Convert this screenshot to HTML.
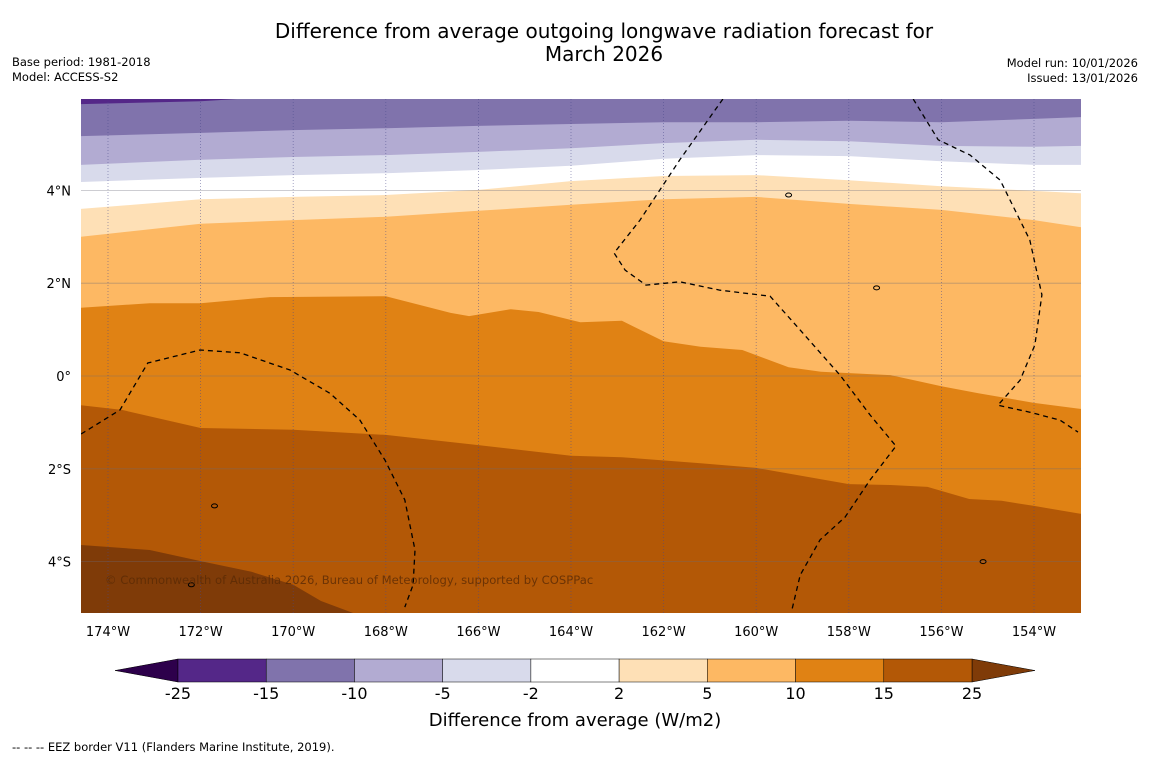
<!DOCTYPE html>
<html><head><meta charset="utf-8"><style>
body{margin:0;background:#fff;width:1150px;height:758px;overflow:hidden;font-family:"Liberation Sans","DejaVu Sans",sans-serif}
svg text{font-family:"DejaVu Sans","Liberation Sans",sans-serif}
</style></head><body>
<svg id="c" width="1150" height="758" xmlns="http://www.w3.org/2000/svg">
<text x="604" y="38" font-size="20" text-anchor="middle">Difference from average outgoing longwave radiation forecast for</text>
<text x="604" y="61" font-size="20" text-anchor="middle">March 2026</text>
<text x="12" y="66" font-size="11.5">Base period: 1981-2018</text>
<text x="12" y="81" font-size="11.5">Model: ACCESS-S2</text>
<text x="1138" y="67" font-size="11.5" text-anchor="end">Model run: 10/01/2026</text>
<text x="1138" y="82" font-size="11.5" text-anchor="end">Issued: 13/01/2026</text>
<defs><clipPath id="mc"><rect x="81" y="99" width="1000" height="514"/></clipPath></defs>
<g id="map" clip-path="url(#mc)"></g>
<g id="axes"></g>
<g id="cbar"></g>
<text x="575" y="726" font-size="18" text-anchor="middle">Difference from average (W/m2)</text>
<text x="12" y="751" font-size="11.5">--  --  -- EEZ border V11 (Flanders Marine Institute, 2019).</text>
</svg>
<script>
const levelColors=["#542788","#8073ac","#b2abd2","#d8daeb","#ffffff","#fee0b6","#fdb863","#e08214","#b35806","#7f3b08"];
const levelNames=["-25 to -15","-15 to -10","-10 to -5","-5 to -2","-2 to 2","2 to 5","5 to 10","10 to 15","15 to 25","above 25"];
const stdLons=[-174.6,-172,-170,-168,-166,-164,-162,-160,-158,-156,-154,-153];
const bZ=[[-174.6,5.86],[-172,5.92],[-170.9,5.99],[-170.5,6.1],[-153,6.1]];
const bA=[5.17,5.24,5.30,5.34,5.39,5.43,5.47,5.47,5.50,5.47,5.54,5.58];
const bB=[4.55,4.66,4.72,4.76,4.83,4.91,5.02,5.09,5.06,4.96,4.94,4.96];
const bC=[4.18,4.27,4.33,4.37,4.44,4.53,4.68,4.76,4.74,4.63,4.55,4.55];
const bD=[3.60,3.81,3.86,3.90,4.01,4.20,4.31,4.33,4.22,4.09,3.99,3.94];
const bE=[3.00,3.28,3.36,3.43,3.56,3.69,3.81,3.86,3.71,3.58,3.36,3.21];
const bF=[[-174.6,1.47],[-173.1,1.57],[-172,1.57],[-170.5,1.70],[-168,1.72],[-166.6,1.36],[-166.2,1.29],[-165.3,1.44],[-164.7,1.38],[-163.8,1.16],[-162.9,1.19],[-162,0.75],[-161.2,0.63],[-160.3,0.56],[-159.3,0.19],[-158.6,0.09],[-157.1,0.02],[-156,-0.22],[-155.2,-0.37],[-154,-0.58],[-153,-0.71]];
const bG=[[-174.6,-0.63],[-173.7,-0.73],[-172,-1.12],[-170,-1.16],[-168,-1.27],[-166,-1.49],[-164,-1.72],[-162.9,-1.75],[-161.2,-1.88],[-160,-1.98],[-158,-2.33],[-157.1,-2.35],[-156.3,-2.39],[-155.4,-2.65],[-154.7,-2.69],[-154,-2.80],[-153,-2.97]];
const bH=[[-174.6,-3.64],[-173.1,-3.75],[-172,-3.99],[-170.9,-4.22],[-170,-4.50],[-169.4,-4.85],[-168.7,-5.11],[-168.5,-5.3]];
const eez1=[[-174.58,-1.25],[-173.74,-0.73],[-173.14,0.28],[-172.01,0.56],[-171.15,0.50],[-170.07,0.13],[-169.21,-0.37],[-168.56,-0.95],[-168.02,-1.81],[-167.59,-2.67],[-167.37,-3.75],[-167.41,-4.50],[-167.59,-4.98]];
const eez2=[[-160.72,5.97],[-161.65,4.66],[-162.51,3.36],[-163.07,2.65],[-162.83,2.28],[-162.38,1.96],[-161.65,2.03],[-160.78,1.85],[-159.70,1.72],[-159.05,0.99],[-158.19,0.02],[-157.54,-0.84],[-156.98,-1.51],[-157.54,-2.24],[-158.08,-3.04],[-158.62,-3.53],[-159.05,-4.29],[-159.23,-5.04]];
const eez3=[[-156.61,5.97],[-156.07,5.09],[-155.38,4.76],[-154.73,4.22],[-154.09,2.93],[-153.83,1.75],[-153.98,0.67],[-154.30,-0.09],[-154.78,-0.63],[-154.09,-0.78],[-153.44,-0.95],[-153.05,-1.21]];
const lonTicks=[-174,-172,-170,-168,-166,-164,-162,-160,-158,-156,-154];
const lonLabels=["174°W","172°W","170°W","168°W","166°W","164°W","162°W","160°W","158°W","156°W","154°W"];
const latTicks=[4,2,0,-2,-4];
const latLabels=["4°N","2°N","0°","2°S","4°S"];
const cbTicks=["-25","-15","-10","-5","-2","2","5","10","15","25"];
const cbColors=["#542788","#8073ac","#b2abd2","#d8daeb","#ffffff","#fee0b6","#fdb863","#e08214","#b35806"];

const NS="http://www.w3.org/2000/svg";
const X=lon=>108+(lon+174)*46.3;
const Y=lat=>376-lat*46.4;
function mk(tag,attrs,parent){const e=document.createElementNS(NS,tag);for(const k in attrs)e.setAttribute(k,attrs[k]);parent.appendChild(e);return e;}
const map=document.getElementById('map');
const boundaries=[bZ,stdLons.map((l,i)=>[l,bA[i]]),stdLons.map((l,i)=>[l,bB[i]]),stdLons.map((l,i)=>[l,bC[i]]),stdLons.map((l,i)=>[l,bD[i]]),stdLons.map((l,i)=>[l,bE[i]]),bF,bG,bH];
let bg=mk('rect',{x:81,y:99,width:1000,height:514,fill:levelColors[0]},map);


boundaries.forEach((b,i)=>{
  const pts=b.map(p=>X(p[0]).toFixed(1)+','+Y(p[1]).toFixed(1));
  const last=b[b.length-1];
  pts.push(X(last[0]+1).toFixed(1)+','+Y(last[1]).toFixed(1),X(last[0]+1).toFixed(1)+',700',X(b[0][0]-1).toFixed(1)+',700',X(b[0][0]-1).toFixed(1)+','+Y(b[0][1]).toFixed(1));
  const p=mk('polygon',{points:pts.join(' '),fill:levelColors[i+1]},map);
  
  
});
latTicks.forEach(l=>{const ln=mk('line',{x1:81,x2:1081,y1:Y(l),y2:Y(l),stroke:'#6a6a7a','stroke-opacity':0.45,'stroke-width':0.8},map);
});
lonTicks.forEach(l=>{const ln=mk('line',{x1:X(l),x2:X(l),y1:99,y2:613,stroke:'#4a4a8a','stroke-opacity':0.6,'stroke-width':0.8,'stroke-dasharray':'1,2'},map);
});
[eez1,eez2,eez3].forEach((e,i)=>{const p=mk('polyline',{points:e.map(q=>X(q[0]).toFixed(1)+','+Y(q[1]).toFixed(1)).join(' '),fill:'none',stroke:'#000','stroke-width':1.3,'stroke-dasharray':'5,4'},map);
});
[[-157.4,1.9],[-159.3,3.9],[-171.7,-2.8],[-172.2,-4.5],[-155.1,-4.0]].forEach(q=>{const c=mk('ellipse',{cx:X(q[0]),cy:Y(q[1]),rx:3,ry:2,fill:'none',stroke:'#000','stroke-width':1},map);
});
const cp=mk('text',{x:105,y:584,'font-size':11.6,fill:'#5a2a05','fill-opacity':0.8},map);cp.textContent='© Commonwealth of Australia 2026, Bureau of Meteorology, supported by COSPPac';

const ax=document.getElementById('axes');
lonTicks.forEach((l,i)=>{const t=mk('text',{x:X(l),y:636,'font-size':13,'text-anchor':'middle'},ax);t.textContent=lonLabels[i];
});
latTicks.forEach((l,i)=>{const t=mk('text',{x:71,y:Y(l)+5,'font-size':13,'text-anchor':'end'},ax);t.textContent=latLabels[i];
});
const cb=document.getElementById('cbar');
const x0=178,x1=972,w=(x1-x0)/cbColors.length;
const lt=mk('polygon',{points:`${x0},659 ${x0},682 115,670.5`,fill:'#2d004b',stroke:'#000','stroke-width':0.5},cb);

const rt=mk('polygon',{points:`${x1},659 ${x1},682 1035,670.5`,fill:'#7f3b08',stroke:'#000','stroke-width':0.5},cb);

cbColors.forEach((c,i)=>{const r=mk('rect',{x:x0+i*w,y:659,width:w,height:23,fill:c,stroke:'#000','stroke-width':0.5},cb);
});
cbTicks.forEach((s,i)=>{const t=mk('text',{x:x0+i*w,y:699,'font-size':16,'text-anchor':'middle'},cb);t.textContent=s;
});
</script>
</body></html>
